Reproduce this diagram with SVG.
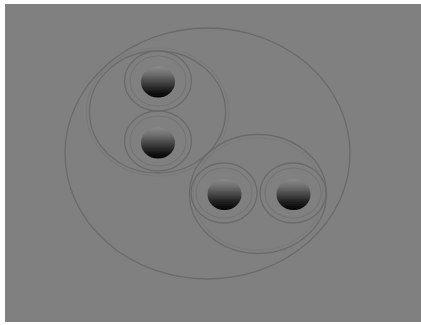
<svg xmlns="http://www.w3.org/2000/svg" width="421" height="325" viewBox="0 0 421 325">
  <defs>
    <linearGradient id="ballGrad" x1="0" y1="0" x2="0" y2="1">
      <stop offset="0" stop-color="#8a8a8a"/>
      <stop offset="0.25" stop-color="#6e6e6e"/>
      <stop offset="0.7" stop-color="#262626"/>
      <stop offset="1" stop-color="#000000"/>
    </linearGradient>
    <filter id="soft" x="-10%" y="-10%" width="120%" height="120%">
      <feGaussianBlur stdDeviation="0.6"/>
    </filter>
  </defs>
  <style>
    .line { fill: none; stroke: #6a6a6a; stroke-width: 1.3; }
    .faint { fill: none; stroke: #747474; stroke-width: 1.1; }
    .ball { fill: url(#ballGrad); }
  </style>
  <rect x="0" y="0" width="421" height="325" fill="#ffffff"/>
  <rect x="5" y="4" width="416" height="318" fill="#808080"/>
  <g filter="url(#soft)">
    <g id="outer">
      <ellipse class="line" cx="207.5" cy="153.5" rx="142.5" ry="125.5"/>
    </g>
    <g id="groupA">
      <ellipse class="line" cx="157.5" cy="112" rx="68" ry="61"/>
      <ellipse class="faint" cx="157.5" cy="112" rx="71" ry="64" opacity="0.5"/>
    </g>
    <g id="groupB">
      <ellipse class="line" cx="258" cy="194" rx="68.5" ry="59.5"/>
      <ellipse class="faint" cx="258" cy="194" rx="65" ry="56" opacity="0.5"/>
    </g>
    <g id="node1">
      <ellipse class="line" cx="158" cy="81" rx="33.5" ry="30"/>
      <ellipse class="faint" cx="158" cy="81" rx="28" ry="25"/>
      <ellipse class="ball" cx="158" cy="82" rx="17" ry="15.5"/>
    </g>
    <g id="node2">
      <ellipse class="line" cx="158" cy="141" rx="33.5" ry="30"/>
      <ellipse class="faint" cx="158" cy="141" rx="28" ry="25"/>
      <ellipse class="ball" cx="158" cy="143" rx="17" ry="15.5"/>
    </g>
    <g id="node3">
      <ellipse class="line" cx="224" cy="193" rx="33" ry="30"/>
      <ellipse class="faint" cx="224" cy="193" rx="28" ry="25"/>
      <ellipse class="ball" cx="224.5" cy="194.5" rx="17" ry="15.5"/>
    </g>
    <g id="node4">
      <ellipse class="line" cx="293" cy="193" rx="33" ry="30"/>
      <ellipse class="faint" cx="293" cy="193" rx="28" ry="25"/>
      <ellipse class="ball" cx="293.5" cy="194.5" rx="17" ry="15.5"/>
    </g>
  </g>
</svg>
